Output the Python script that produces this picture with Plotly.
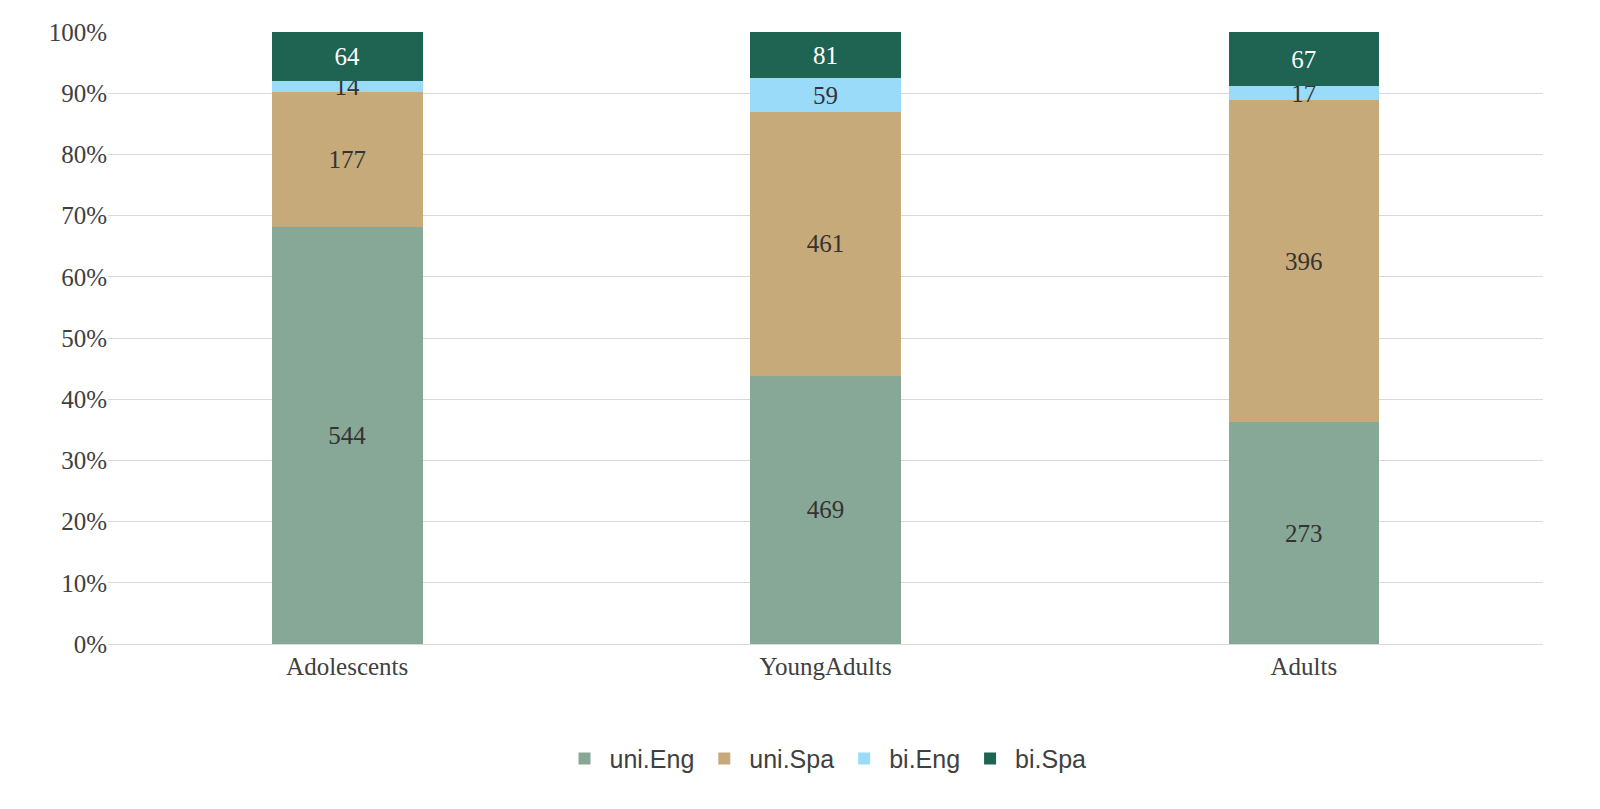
import plotly.graph_objects as go

groups = ['Adolescents', 'YoungAdults', 'Adults']
uni_eng = [544, 469, 273]
uni_spa = [177, 461, 396]
bi_eng = [14, 59, 17]
bi_spa = [64, 81, 67]

series = [
    ('uni.Eng', uni_eng, '#87A896', '#333333'),
    ('uni.Spa', uni_spa, '#C6AA79', '#333333'),
    ('bi.Eng', bi_eng, '#9ADBF9', '#333333'),
    ('bi.Spa', bi_spa, '#1F6352', '#FFFFFF'),
]

fig = go.Figure()
for name, vals, col, tcol in series:
    fig.add_trace(go.Bar(
        x=groups, y=vals, name=name, marker_color=col, marker_line_width=0,
        text=vals, textposition='inside', insidetextanchor='middle',
        textangle=0, constraintext='none',
        textfont=dict(family='Liberation Serif', size=25, color=tcol),
    ))

fig.update_layout(
    barmode='stack', barnorm='percent', bargap=0.685,
    width=1600, height=809,
    margin=dict(l=100, r=65, t=24, b=173),
    plot_bgcolor='white', paper_bgcolor='white',
    uniformtext=dict(minsize=25, mode='show'),
    font=dict(family='Liberation Serif', size=25, color='#404040'),
    legend=dict(orientation='h', x=0.5, xanchor='center', y=-0.15, yanchor='top',
                font=dict(family='Liberation Sans', size=25, color='#404040'),
                traceorder='normal', itemwidth=40),
)
fig.update_yaxes(range=[0, 100], dtick=10, ticksuffix='%', gridcolor='#D9D9D9',
                 zeroline=False, showline=False, ticks='', automargin=False,
                 tickfont=dict(size=25))
fig.update_xaxes(showline=True, linecolor='#D9D9D9', automargin=False,
                 tickfont=dict(size=25))

fig.write_html("out.html")
